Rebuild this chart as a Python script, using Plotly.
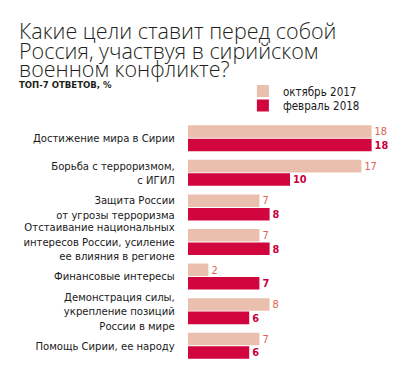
import plotly.graph_objects as go

categories = [
    "Достижение мира в Сирии",
    "Борьба с терроризмом,<br>с ИГИЛ",
    "Защита России<br>от угрозы терроризма",
    "Отстаивание национальных<br>интересов России, усиление<br>ее влияния в регионе",
    "Финансовые интересы",
    "Демонстрация силы,<br>укрепление позиций<br>России в мире",
    "Помощь Сирии, ее народу",
]
oct_2017 = [18, 17, 7, 7, 2, 8, 7]
feb_2018 = [18, 10, 8, 8, 7, 6, 6]
series_names = ["октябрь 2017", "февраль 2018"]
title_lines = ["Какие цели ставит перед собой", "Россия, участвуя в сирийском", "военном конфликте?"]
subtitle = "ТОП-7 ОТВЕТОВ, %"

LIGHT = "#ebbfad"
DARK = "#d1063f"
LIGHT_TXT = "#e2604e"
DARK_TXT = "#c9003c"
COND = "DejaVu Sans Condensed"

# page body has an 8px margin: the figure is drawn 8px in from the window corner
OFF = 8
W, H = 408 - OFF, 380 - OFF
L, T = 188 - OFF, 121 - OFF
PW, PH = 204.4, 242

def px(x):
    return (x - OFF - L) / PW

def py(y):
    return (T + PH - (y - OFF)) / PH

fig = go.Figure()
fig.add_trace(go.Bar(
    y=categories, x=oct_2017, orientation="h", name=series_names[0],
    marker=dict(color=LIGHT, line=dict(width=0)),
    text=oct_2017, textposition="outside", cliponaxis=False,
    textfont=dict(family=COND, size=13, color=LIGHT_TXT),
    legend="legend",
))
fig.add_trace(go.Bar(
    y=categories, x=feb_2018, orientation="h", name=series_names[1],
    marker=dict(color=DARK, line=dict(width=0)),
    text=feb_2018, textposition="outside", cliponaxis=False,
    textfont=dict(family=COND, size=13, color=DARK_TXT, weight="bold"),
    legend="legend2",
))

annotations = []
centers = [30, 50, 68.5]
for line, c in zip(title_lines, centers):
    annotations.append(dict(
        text=line, xref="paper", yref="paper", x=px(17), y=py(c),
        xanchor="left", yanchor="middle", showarrow=False,
        font=dict(family="Open Sans", size=21.5, color="#231f20", weight=300),
    ))
annotations.append(dict(
    text=subtitle, xref="paper", yref="paper", x=px(17), y=py(84.5),
    xanchor="left", yanchor="middle", showarrow=False,
    font=dict(family=COND, size=9.5, color="#231f20", weight="bold"),
))

leg_common = dict(
    xanchor="left", yanchor="middle",
    font=dict(family=COND, size=11.5, color="#1a1a1a"),
    bgcolor="rgba(0,0,0,0)", itemwidth=30,
)

fig.update_layout(
    width=W, height=H,
    margin=dict(l=L, r=W - L - PW, t=T, b=H - T - PH, pad=0, autoexpand=False),
    paper_bgcolor="white", plot_bgcolor="white",
    barmode="group", bargap=0.22, bargroupgap=0.07,
    showlegend=True,
    legend=dict(x=px(243), y=py(91), **leg_common),
    legend2=dict(x=px(243), y=py(105.5), **leg_common),
    xaxis=dict(range=[0, 20], visible=False, fixedrange=True),
    yaxis=dict(
        autorange="reversed", showgrid=False, zeroline=False, showline=False,
        ticks="outside", ticklen=6, tickcolor="rgba(0,0,0,0)",
        ticklabelstandoff=4, automargin=False,
        tickfont=dict(family=COND, size=11.2, color="#1a1a1a"),
    ),
    annotations=annotations,
    font=dict(family=COND),
)

fig.write_html("out.html")
